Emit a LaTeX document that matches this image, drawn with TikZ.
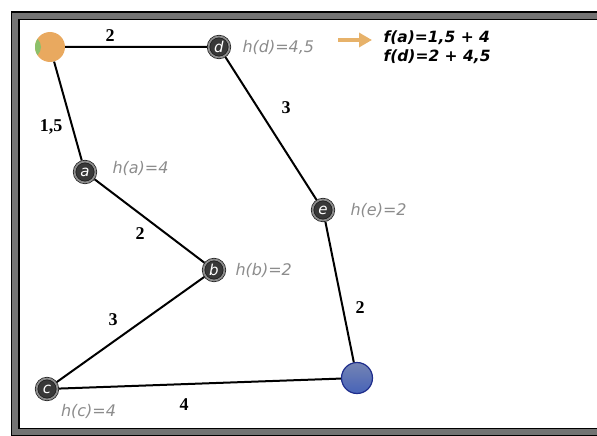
\documentclass[tikz,border=0pt]{standalone}
\usepackage{fontspec}
\newfontfamily\vxfont{DejaVu Sans}
\newfontfamily\wtfont{Liberation Serif}
\usetikzlibrary{positioning,arrows.meta}

\definecolor{startorange}{RGB}{233,169,95}
\definecolor{startgreen}{RGB}{140,192,106}
\definecolor{goalblue}{RGB}{71,99,184}
\definecolor{goalrim}{RGB}{30,45,140}
\definecolor{hgray}{RGB}{140,140,140}
\definecolor{arrowtan}{RGB}{231,178,106}

\begin{document}
\begin{tikzpicture}[x=1pt, y=-1pt,
    vtx/.style={circle, minimum size=21pt, inner sep=0pt, outer sep=1.5pt,
        fill=black!78, draw=black!90, line width=0.7pt, double=black!45,
        double distance=1.8pt, text=white,
        font=\vxfont\itshape\fontsize{15}{15}\selectfont},
    startv/.style={circle, minimum size=30pt, inner sep=0pt, fill=startorange,
        path picture={\fill[startgreen] ([xshift=-5pt]path picture bounding box.west) circle (11pt);}},
    goalv/.style={circle, minimum size=31pt, inner sep=0pt,
        top color=goalblue!80!black!70, bottom color=goalblue, draw=goalrim, line width=1.2pt},
    edge/.style={line width=2pt},
    wt/.style={font=\wtfont\bfseries\fontsize{18}{18}\selectfont},
    hval/.style={text=hgray, font=\vxfont\itshape\fontsize{16}{16}\selectfont},
    fval/.style={align=left, font=\vxfont\bfseries\itshape\fontsize{15.5}{19}\selectfont}]

    \useasboundingbox (0,0) rectangle (597,436);
    \clip (0,0) rectangle (597,436);

    % frame, open on the right
    \draw[line width=9pt] (15,16) rectangle (680,432);
    \draw[line width=5.5pt, black!55] (15,16) rectangle (680,432);

    % vertices
    \node[startv] (s) at (50,47) {};
    \node[vtx] (d) at (219,47) {d};
    \node[vtx] (a) at (85,172) {a};
    \node[vtx] (b) at (214,270) {b};
    \node[vtx] (c) at (47,389) {c};
    \node[vtx] (e) at (323,210) {e};
    \node[goalv] (z) at (357,378) {};

    \draw[edge] (s) -- (d) -- (e) -- (z) -- (c) -- (b) -- (a) -- (s);

    % costs
    \node[wt] (w1) at (110,36) {2};
    \node[wt] (w2) at (51,127) {1,5};
    \node[wt] (w3) at (286,108) {3};
    \node[wt] (w4) at (140,234) {2};
    \node[wt] (w5) at (113,320) {3};
    \node[wt] (w6) at (360,308) {2};
    \node[wt] (w7) at (184,405) {4};

    % heuristic
    \node[hval, right=8pt of d] (hd) {h(d)=4,5};
    \node[hval, right=12pt of a, yshift=4pt] (ha) {h(a)=4};
    \node[hval, right=12pt of e] (he) {h(e)=2};
    \node[hval, right=6pt of b] (hb) {h(b)=2};
    \node[hval, below right=3pt and 2pt of c] (hc) {h(c)=4};

    \node[fval, anchor=west] (fv) at (380,47.5) {f(a)=1,5 + 4\\f(d)=2 + 4,5};
    \coordinate (ar) at (338,40);
    \draw[line width=4.5pt, arrowtan, -{Triangle[length=13pt, width=14pt]}, shorten >=8pt]
        (ar) -- (ar -| fv.west);
\end{tikzpicture}
\end{document}
